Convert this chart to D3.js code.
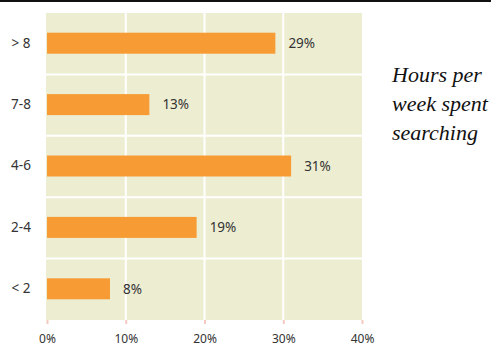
<!DOCTYPE html>
<html>
<head>
<meta charset="utf-8">
<script src="https://cdn.jsdelivr.net/npm/d3@7"></script>
<style>
  html, body { margin: 0; padding: 0; background: #fff; }
  svg { display: block; }
</style>
</head>
<body>
<svg id="chart" width="491" height="348"></svg>
<script>
// Weekly hours spent searching, share of respondents
const categories = ["> 8", "7-8", "4-6", "2-4", "< 2"];
const values = [29, 13, 31, 19, 8];
const tickValues = [0, 10, 20, 30, 40];
const titleLines = ["Hours per", "week spent", "searching"];

const svg = d3.select("#chart");
const W = 491, H = 348;
const margin = { top: 13, left: 47, right: 129, bottom: 28 };
const plotW = W - margin.left - margin.right;
const plotH = H - margin.top - margin.bottom;

// rule across the top
svg.append("rect").attr("x", 0).attr("y", 0).attr("width", W).attr("height", 2).attr("fill", "#111");

const x = d3.scaleLinear().domain([0, 40]).range([0, plotW]);
const y = d3.scaleBand().domain(categories).range([0, plotH]).paddingInner(0).paddingOuter(0);

const g = svg.append("g").attr("transform", `translate(${margin.left},${margin.top})`);

// plot background
g.append("rect").attr("x", -1).attr("y", 0).attr("width", plotW + 1).attr("height", plotH).attr("fill", "#EDEDD2");

// vertical grid lines
g.selectAll(".vgrid").data(tickValues.slice(1, -1)).enter().append("line")
  .attr("x1", d => x(d)).attr("x2", d => x(d))
  .attr("y1", 0).attr("y2", plotH)
  .attr("stroke", "#fff").attr("stroke-width", 2);

// horizontal grid lines between bands
g.selectAll(".hgrid").data(categories.slice(1)).enter().append("line")
  .attr("x1", -1).attr("x2", plotW)
  .attr("y1", d => y(d)).attr("y2", d => y(d))
  .attr("stroke", "#fff").attr("stroke-width", 2);

// bars
const barH = 21;
g.selectAll(".bar").data(values).enter().append("rect")
  .attr("x", x(0))
  .attr("y", (d, i) => y(categories[i]) + y.bandwidth() / 2 - barH / 2 - 0.5)
  .attr("width", d => x(d) - x(0))
  .attr("height", barH)
  .attr("fill", "#F79C34");

// value labels
g.selectAll(".val").data(values).enter().append("text")
  .attr("x", d => x(d) + 13)
  .attr("y", (d, i) => y(categories[i]) + y.bandwidth() / 2 - 0.5)
  .attr("dy", "0.36em")
  .attr("font-family", "Noto Sans, sans-serif")
  .attr("font-size", 13.5)
  .attr("fill", "#333")
  .text(d => d + "%");

// category labels
g.selectAll(".cat").data(categories).enter().append("text")
  .attr("x", -26)
  .attr("y", d => y(d) + y.bandwidth() / 2 - 1)
  .attr("dy", "0.36em")
  .attr("text-anchor", "middle")
  .attr("font-family", "Noto Sans, sans-serif")
  .attr("font-size", 13.5)
  .attr("fill", "#333")
  .text(d => d);

// x axis
const axis = d3.axisBottom(x).tickValues(tickValues).tickSize(4).tickPadding(10).tickFormat(d => d + "%");
const ax = g.append("g").attr("transform", `translate(0,${plotH})`).call(axis);
ax.select(".domain").remove();
ax.selectAll(".tick line").attr("stroke", "#F3C9C0").attr("stroke-width", 2);
ax.selectAll(".tick text")
  .attr("font-family", "Noto Sans, sans-serif")
  .attr("font-size", 12)
  .attr("fill", "#333");

// title block
const title = svg.append("text")
  .attr("x", 392).attr("y", 82)
  .attr("font-family", "Liberation Serif, serif")
  .attr("font-style", "italic")
  .attr("font-size", 22)
  .attr("fill", "#111");
title.selectAll("tspan").data(titleLines).enter().append("tspan")
  .attr("x", 392)
  .attr("dy", (d, i) => i === 0 ? 0 : 29)
  .text(d => d);
</script>
</body>
</html>
